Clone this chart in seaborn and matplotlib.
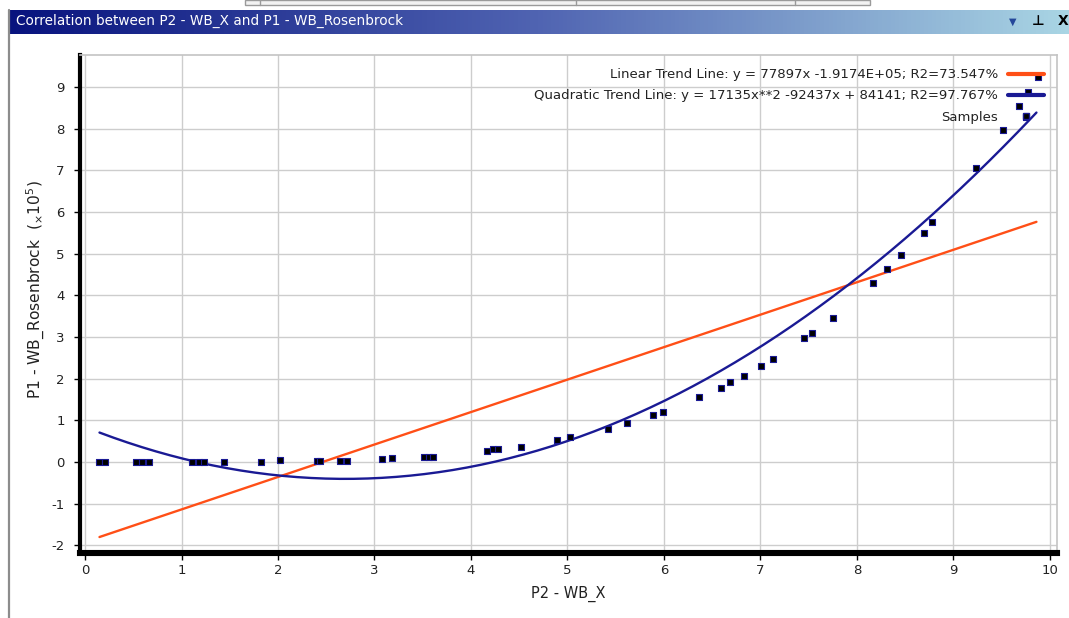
import numpy as np
import pandas as pd
import matplotlib
matplotlib.use("Agg")
import matplotlib.pyplot as plt
import seaborn as sns
from matplotlib.colors import LinearSegmentedColormap
from matplotlib.lines import Line2D
from matplotlib.patches import Rectangle

# samples (y in units of 1e5)
wb_x = [0.15, 0.21, 0.53, 0.59, 0.66, 1.11, 1.18, 1.23, 1.44, 1.82, 2.02,
        2.40, 2.44, 2.64, 2.71, 3.08, 3.18, 3.51, 3.56, 3.61, 4.17, 4.23,
        4.28, 4.52, 4.89, 5.03, 5.42, 5.62, 5.89, 5.99, 6.36, 6.59, 6.68,
        6.83, 7.01, 7.13, 7.45, 7.53, 7.75, 8.17, 8.31, 8.46, 8.69, 8.78,
        9.23, 9.51, 9.68, 9.75, 9.77, 9.88]
wb_rosen = [0.0, 0.0, 0.0, 0.0, 0.0, 0.0, 0.0, 0.0, 0.0, 0.0, 0.04,
            0.02, 0.02, 0.02, 0.02, 0.06, 0.10, 0.13, 0.13, 0.13, 0.27, 0.30,
            0.30, 0.37, 0.53, 0.61, 0.79, 0.93, 1.13, 1.21, 1.55, 1.78, 1.91,
            2.07, 2.31, 2.48, 2.98, 3.09, 3.46, 4.30, 4.63, 4.97, 5.50, 5.77,
            7.06, 7.97, 8.54, 8.27, 8.87, 9.24]

# trend line coefficients from the legend (scaled to 1e5)
lin_coef = [0.77897, -1.9174]
quad_coef = [0.17135, -0.92437, 0.84141]
fit_range = [0.15, 9.86]

lin_label = "Linear Trend Line: y = 77897x -1.9174E+05; R2=73.547%"
quad_label = "Quadratic Trend Line: y = 17135x**2 -92437x + 84141; R2=97.767%"
title = "Correlation between P2 - WB_X and P1 - WB_Rosenbrock"

orange = "#ff4f17"
navy = "#1a1a94"

sns.set_theme(style="whitegrid")
plt.rcParams["font.family"] = ["DejaVu Sans"]
plt.rcParams["axes.unicode_minus"] = False

W, H = 1069, 618
fig = plt.figure(figsize=(W / 100, H / 100), dpi=100)
fig.patch.set_facecolor("white")

# window chrome
fig.patches.append(Rectangle((245 / W, 1 - 5 / H), 625 / W, 5 / H, transform=fig.transFigure,
                             facecolor="#f2f2f2", edgecolor="#9a9a9a", lw=1))
for xv in [260, 576, 795]:
    fig.add_artist(Line2D([xv / W, xv / W], [1 - 5 / H, 1], color="#9a9a9a", lw=1))
fig.add_artist(Line2D([9 / W, 9 / W], [0, 1 - 10 / H], color="#8c8c8c", lw=1.6))

bar = fig.add_axes([8 / W, 1 - 34 / H, (W - 8) / W, 24 / H])
cmap = LinearSegmentedColormap.from_list("bar", ["#08137e", "#5064b2", "#a9d5e4"])
bar.imshow(np.linspace(0, 1, 256)[None, :], aspect="auto", cmap=cmap)
bar.set_axis_off()
fig.text(16 / W, 1 - 21 / H, title, color="white", fontsize=9.8, va="center", ha="left")
fig.text(1013 / W, 1 - 22 / H, "\u25bc", color="#24479a", fontsize=7, va="center", ha="center")
fig.text(1038 / W, 1 - 21 / H, "\u22a5", color="black", fontsize=10, fontweight="bold",
         va="center", ha="center")
fig.text(1063 / W, 1 - 21 / H, "X", color="black", fontsize=10, fontweight="bold",
         va="center", ha="center")

# chart
ax = fig.add_axes([80 / W, 65 / H, 977 / W, 498 / H])
xs = np.linspace(fit_range[0], fit_range[1], 200)
lines = pd.DataFrame({
    "x": xs,
    "lin": np.polyval(lin_coef, xs),
    "quad": np.polyval(quad_coef, xs),
})
sns.lineplot(data=lines, x="x", y="lin", color=orange, lw=1.7, ax=ax)
sns.lineplot(data=lines, x="x", y="quad", color=navy, lw=1.7, ax=ax)
sns.scatterplot(x=wb_x, y=wb_rosen, marker="s", s=22, color="black",
                edgecolor=navy, linewidth=0.8, zorder=5, ax=ax)

ax.set_xlim(-0.052, 10.073)
ax.set_ylim(-2.184, 9.767)
ax.set_xticks(range(0, 11))
ax.set_yticks(range(-2, 10))
ax.grid(True, color="#cdcdcd", lw=1)
ax.set_facecolor("white")
for side in ["top", "right"]:
    ax.spines[side].set_color("#c4c4c4")
    ax.spines[side].set_linewidth(1.2)
ax.spines["left"].set_color("black")
ax.spines["left"].set_linewidth(3)
ax.spines["bottom"].set_color("black")
ax.spines["bottom"].set_linewidth(4.4)
ax.tick_params(axis="y", left=True, length=4, width=1, color="black", pad=7,
               labelsize=9.5, labelcolor="#222222")
ax.tick_params(axis="x", bottom=True, length=5, width=1, color="black", pad=3,
               labelsize=9.5, labelcolor="#222222")
ax.set_xlabel("P2 - WB_X", fontsize=10.5, color="#222222", labelpad=6)
ax.set_ylabel(r"P1 - WB_Rosenbrock  ($\mathregular{_{\times}10^{5}}$)", fontsize=11.2,
              color="#222222")
ax.yaxis.set_label_coords(-0.034, 0.528)

handles = [
    Line2D([], [], color=orange, lw=3),
    Line2D([], [], color=navy, lw=3),
    Line2D([], [], ls="none", marker="s", ms=5, color="black", mec=navy),
]
ax.legend(handles, [lin_label, quad_label, "Samples"], loc="upper right",
          markerfirst=False, frameon=False, fontsize=9.5, handlelength=2.7,
          handletextpad=0.76, labelspacing=0.62, borderaxespad=0.6, labelcolor="#222222")

fig.savefig("out.png", dpi=100, facecolor="white")
